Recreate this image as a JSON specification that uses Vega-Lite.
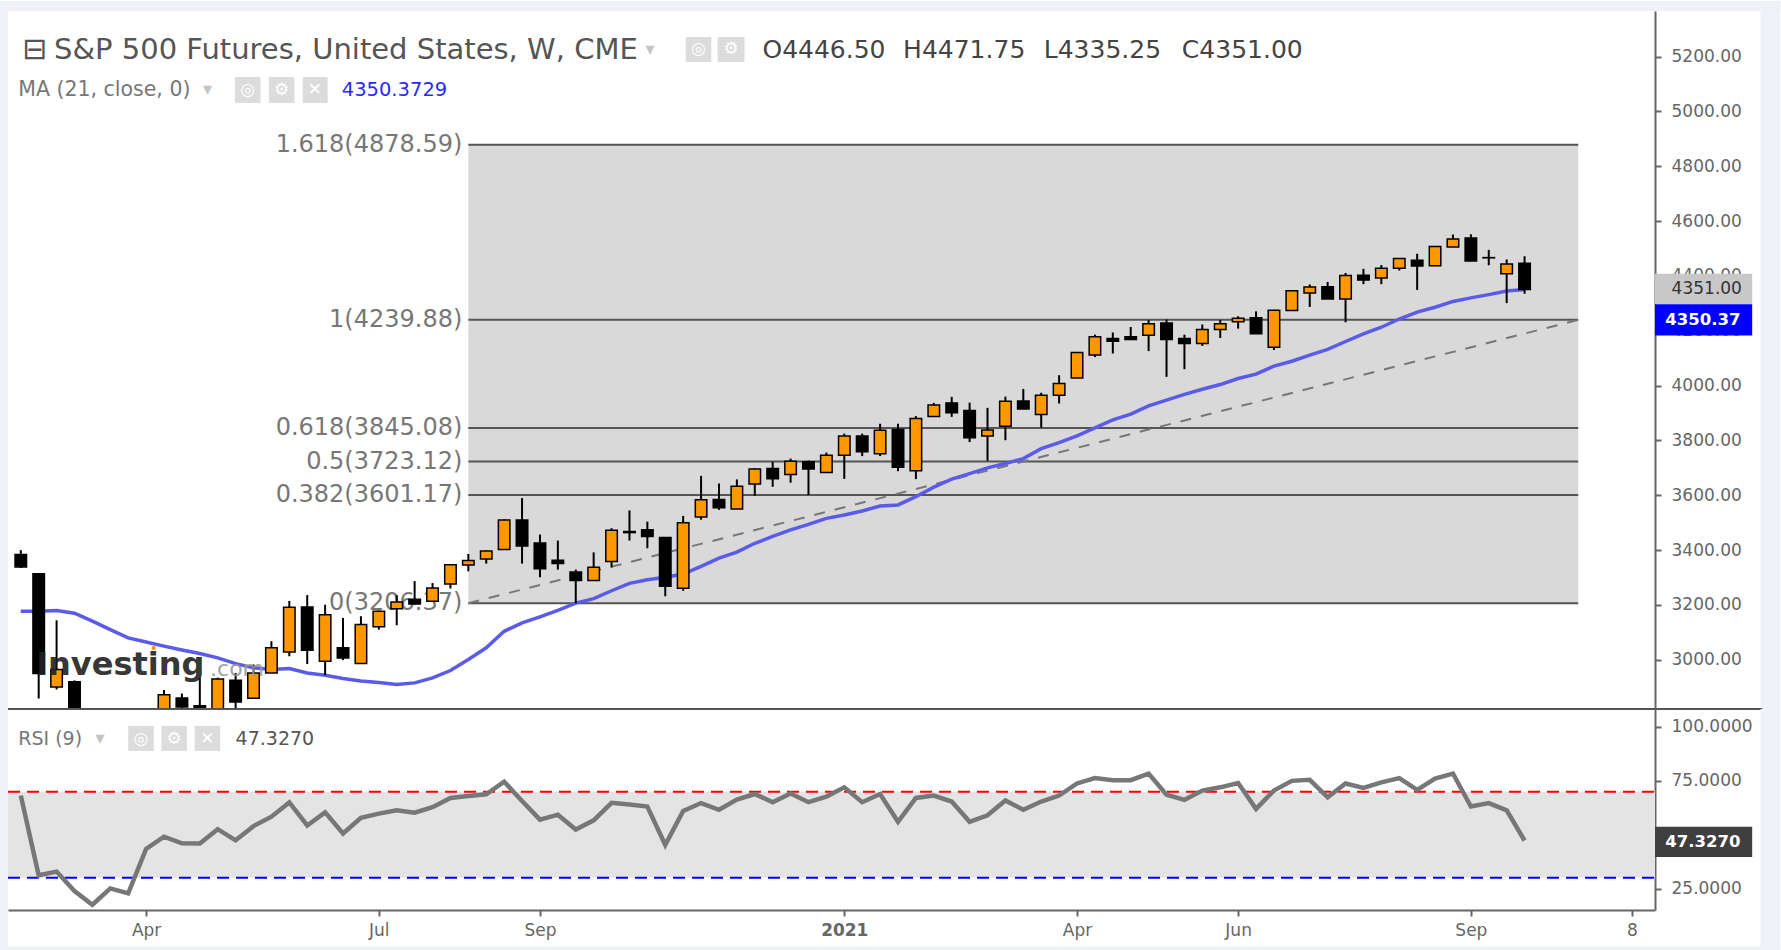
{"$schema":"https://vega.github.io/schema/vega-lite/v6.json","background":"white","padding":0,"spacing":0,"bounds":"flush","config":{"view":{"stroke":null},"axis":{"grid":false,"labelFont":"DejaVu Sans","titleFont":"DejaVu Sans"},"text":{"font":"DejaVu Sans","baseline":"middle","align":"left"}},
"datasets":{"weeks":[
{"t":"2020-02-17","o":3384,"h":3400,"l":3335,"c":3339,"ma":3177,"rsi":68.2},
{"t":"2020-02-24","o":3314,"h":3314,"l":2859,"c":2950,"ma":3177,"rsi":31.2},
{"t":"2020-03-02","o":2901,"h":3144,"l":2892,"c":2965,"ma":3180,"rsi":32.9},
{"t":"2020-03-09","o":2920,"h":2925,"l":2700,"c":2720,"ma":3170,"rsi":23.9},
{"t":"2020-03-16","o":2700,"h":2720,"l":2300,"c":2310,"ma":3141,"rsi":17.5},
{"t":"2020-03-23","o":2300,"h":2640,"l":2180,"c":2530,"ma":3110,"rsi":25.1},
{"t":"2020-03-30","o":2530,"h":2640,"l":2430,"c":2480,"ma":3080,"rsi":22.8},
{"t":"2020-04-06","o":2480,"h":2790,"l":2470,"c":2780,"ma":3065,"rsi":43.4},
{"t":"2020-04-13","o":2780,"h":2890,"l":2750,"c":2873,"ma":3050,"rsi":49.1},
{"t":"2020-04-20","o":2861,"h":2877,"l":2720,"c":2828,"ma":3036,"rsi":46},
{"t":"2020-04-27","o":2833,"h":2935,"l":2780,"c":2810,"ma":3023,"rsi":45.9},
{"t":"2020-05-04","o":2800,"h":2935,"l":2780,"c":2930,"ma":3007,"rsi":52.6},
{"t":"2020-05-11","o":2926,"h":2952,"l":2760,"c":2846,"ma":2986,"rsi":47.4},
{"t":"2020-05-18","o":2860,"h":2983,"l":2860,"c":2952,"ma":2971,"rsi":54},
{"t":"2020-05-25","o":2952,"h":3068,"l":2952,"c":3044,"ma":2965,"rsi":58.4},
{"t":"2020-06-01","o":3029,"h":3215,"l":3013,"c":3192,"ma":2968,"rsi":65},
{"t":"2020-06-08","o":3193,"h":3236,"l":2985,"c":3035,"ma":2952,"rsi":54.3},
{"t":"2020-06-15","o":2995,"h":3201,"l":2944,"c":3164,"ma":2944,"rsi":60.4},
{"t":"2020-06-22","o":3044,"h":3153,"l":2999,"c":3007,"ma":2932,"rsi":50.6},
{"t":"2020-06-29","o":2987,"h":3159,"l":2987,"c":3129,"ma":2923,"rsi":57.9},
{"t":"2020-07-06","o":3121,"h":3180,"l":3110,"c":3177,"ma":2917,"rsi":59.8},
{"t":"2020-07-13","o":3186,"h":3236,"l":3126,"c":3211,"ma":2910,"rsi":61.4},
{"t":"2020-07-20","o":3221,"h":3287,"l":3201,"c":3204,"ma":2916,"rsi":60.2},
{"t":"2020-07-27","o":3214,"h":3280,"l":3214,"c":3262,"ma":2934,"rsi":62.8},
{"t":"2020-08-03","o":3277,"h":3349,"l":3260,"c":3347,"ma":2961,"rsi":67.1},
{"t":"2020-08-10","o":3346,"h":3386,"l":3323,"c":3362,"ma":3001,"rsi":68},
{"t":"2020-08-17","o":3368,"h":3399,"l":3351,"c":3397,"ma":3044,"rsi":68.8},
{"t":"2020-08-24","o":3402,"h":3512,"l":3402,"c":3510,"ma":3104,"rsi":74.6},
{"t":"2020-08-31","o":3510,"h":3590,"l":3351,"c":3415,"ma":3135,"rsi":65.7},
{"t":"2020-09-07","o":3426,"h":3457,"l":3301,"c":3332,"ma":3157,"rsi":57},
{"t":"2020-09-14","o":3363,"h":3435,"l":3329,"c":3351,"ma":3180,"rsi":59.3},
{"t":"2020-09-21","o":3320,"h":3329,"l":3206,"c":3289,"ma":3207,"rsi":52.4},
{"t":"2020-09-28","o":3289,"h":3392,"l":3289,"c":3338,"ma":3223,"rsi":56.7},
{"t":"2020-10-05","o":3359,"h":3480,"l":3337,"c":3473,"ma":3252,"rsi":64.8},
{"t":"2020-10-12","o":3468,"h":3545,"l":3435,"c":3464,"ma":3279,"rsi":64},
{"t":"2020-10-19","o":3474,"h":3504,"l":3407,"c":3450,"ma":3292,"rsi":63.1},
{"t":"2020-10-26","o":3446,"h":3446,"l":3232,"c":3268,"ma":3301,"rsi":45.3},
{"t":"2020-11-02","o":3261,"h":3525,"l":3252,"c":3500,"ma":3313,"rsi":61},
{"t":"2020-11-09","o":3521,"h":3671,"l":3511,"c":3584,"ma":3341,"rsi":64.7},
{"t":"2020-11-16","o":3585,"h":3643,"l":3547,"c":3555,"ma":3371,"rsi":61.6},
{"t":"2020-11-23","o":3550,"h":3658,"l":3550,"c":3633,"ma":3393,"rsi":66.3},
{"t":"2020-11-30","o":3641,"h":3698,"l":3598,"c":3696,"ma":3425,"rsi":68.9},
{"t":"2020-12-07","o":3698,"h":3722,"l":3631,"c":3660,"ma":3450,"rsi":65.1},
{"t":"2020-12-14","o":3676,"h":3734,"l":3646,"c":3724,"ma":3474,"rsi":69.1},
{"t":"2020-12-21","o":3722,"h":3727,"l":3601,"c":3696,"ma":3494,"rsi":65.1},
{"t":"2020-12-28","o":3683,"h":3756,"l":3683,"c":3746,"ma":3516,"rsi":67.7},
{"t":"2021-01-04","o":3746,"h":3825,"l":3660,"c":3816,"ma":3528,"rsi":72},
{"t":"2021-01-11","o":3816,"h":3825,"l":3743,"c":3759,"ma":3543,"rsi":65.1},
{"t":"2021-01-18","o":3752,"h":3861,"l":3743,"c":3837,"ma":3561,"rsi":68.9},
{"t":"2021-01-25","o":3840,"h":3861,"l":3688,"c":3702,"ma":3565,"rsi":56},
{"t":"2021-02-01","o":3690,"h":3889,"l":3659,"c":3880,"ma":3595,"rsi":67.1},
{"t":"2021-02-08","o":3887,"h":3937,"l":3887,"c":3929,"ma":3630,"rsi":68.2},
{"t":"2021-02-15","o":3937,"h":3959,"l":3886,"c":3901,"ma":3659,"rsi":65.4},
{"t":"2021-02-22","o":3909,"h":3938,"l":3794,"c":3810,"ma":3679,"rsi":56},
{"t":"2021-03-01","o":3816,"h":3919,"l":3726,"c":3838,"ma":3700,"rsi":59},
{"t":"2021-03-08","o":3852,"h":3960,"l":3801,"c":3943,"ma":3716,"rsi":65.9},
{"t":"2021-03-15","o":3944,"h":3988,"l":3915,"c":3915,"ma":3734,"rsi":61.6},
{"t":"2021-03-22","o":3895,"h":3974,"l":3847,"c":3965,"ma":3770,"rsi":65.4},
{"t":"2021-03-29","o":3965,"h":4038,"l":3935,"c":4008,"ma":3792,"rsi":68.2},
{"t":"2021-04-05","o":4028,"h":4121,"l":4028,"c":4121,"ma":3817,"rsi":73.8},
{"t":"2021-04-12","o":4112,"h":4186,"l":4104,"c":4178,"ma":3846,"rsi":76.3},
{"t":"2021-04-19","o":4172,"h":4194,"l":4117,"c":4162,"ma":3875,"rsi":75.3},
{"t":"2021-04-26","o":4178,"h":4214,"l":4168,"c":4168,"ma":3896,"rsi":75.3},
{"t":"2021-05-03","o":4184,"h":4239,"l":4126,"c":4226,"ma":3926,"rsi":78.4},
{"t":"2021-05-10","o":4228,"h":4241,"l":4032,"c":4168,"ma":3947,"rsi":68.6},
{"t":"2021-05-17","o":4172,"h":4186,"l":4060,"c":4154,"ma":3968,"rsi":66.2},
{"t":"2021-05-24","o":4154,"h":4223,"l":4145,"c":4205,"ma":3987,"rsi":70.5},
{"t":"2021-05-31","o":4205,"h":4239,"l":4174,"c":4226,"ma":4004,"rsi":72},
{"t":"2021-06-07","o":4233,"h":4253,"l":4208,"c":4246,"ma":4026,"rsi":74},
{"t":"2021-06-14","o":4248,"h":4271,"l":4189,"c":4189,"ma":4042,"rsi":62},
{"t":"2021-06-21","o":4140,"h":4275,"l":4130,"c":4275,"ma":4071,"rsi":70.5},
{"t":"2021-06-28","o":4274,"h":4346,"l":4274,"c":4346,"ma":4089,"rsi":75},
{"t":"2021-07-05","o":4338,"h":4369,"l":4287,"c":4360,"ma":4111,"rsi":75.5},
{"t":"2021-07-12","o":4361,"h":4378,"l":4316,"c":4316,"ma":4132,"rsi":67.4},
{"t":"2021-07-19","o":4316,"h":4411,"l":4231,"c":4402,"ma":4161,"rsi":73.8},
{"t":"2021-07-26","o":4403,"h":4426,"l":4370,"c":4385,"ma":4189,"rsi":71.7},
{"t":"2021-08-02","o":4393,"h":4440,"l":4370,"c":4428,"ma":4213,"rsi":74.3},
{"t":"2021-08-09","o":4428,"h":4464,"l":4420,"c":4464,"ma":4243,"rsi":76.3},
{"t":"2021-08-16","o":4457,"h":4481,"l":4349,"c":4436,"ma":4268,"rsi":70.8},
{"t":"2021-08-23","o":4437,"h":4507,"l":4437,"c":4507,"ma":4286,"rsi":76.1},
{"t":"2021-08-30","o":4506,"h":4551,"l":4506,"c":4535,"ma":4307,"rsi":78.4},
{"t":"2021-09-06","o":4538,"h":4552,"l":4455,"c":4455,"ma":4320,"rsi":63.1},
{"t":"2021-09-13","o":4467,"h":4495,"l":4439,"c":4466,"ma":4332,"rsi":64.7},
{"t":"2021-09-20","o":4408,"h":4460,"l":4301,"c":4444,"ma":4345,"rsi":61.3},
{"t":"2021-09-27","o":4446.5,"h":4471.75,"l":4335.25,"c":4351,"ma":4350.37,"rsi":47.33}
],
"fib":[
{"t":"2020-08-10","t2":"2021-10-18","p":4878.59,"label":"1.618(4878.59)"},
{"t":"2020-08-10","t2":"2021-10-18","p":4239.88,"label":"1(4239.88)"},
{"t":"2020-08-10","t2":"2021-10-18","p":3845.08,"label":"0.618(3845.08)"},
{"t":"2020-08-10","t2":"2021-10-18","p":3723.12,"label":"0.5(3723.12)"},
{"t":"2020-08-10","t2":"2021-10-18","p":3601.17,"label":"0.382(3601.17)"},
{"t":"2020-08-10","t2":"2021-10-18","p":3206.37,"label":"0(3206.37)"}
]},
"vconcat":[
{"width":1647,"height":698,
"encoding":{"x":{"field":"t","type":"temporal","title":null,"axis":null,"scale":{"type":"utc","padding":0,"domain":[{"year":2020,"month":2,"date":12,"utc":true},{"year":2021,"month":11,"date":17,"utc":true}]}},
"y":{"field":"p","type":"quantitative","scale":{"domain":[2820.7,5366.3],"nice":false,"zero":false},
"axis":{"orient":"right","title":null,"values":[3000,3200,3400,3600,3800,4000,4200,4400,4600,4800,5000,5200],"format":".2f","labelFontSize":17,"labelColor":"#666666","labelPadding":10,"tickSize":6,"tickColor":"#666666","tickWidth":2,"domainColor":"#666666","domainWidth":2}}},
"layer":[
{"data":{"values":[
{"t":"2020-02-08T21:00:00Z","t2":"2022-01-05T00:00:00Z","p":5366.3,"p2":5402.8},
{"t":"2020-02-08T21:00:00Z","t2":"2020-02-12T00:00:00Z","p":2820.7,"p2":5402.8},
{"t":"2021-12-28T06:00:00Z","t2":"2022-01-05T00:00:00Z","p":2820.7,"p2":5402.8}]},
"mark":{"type":"rect","color":"#eef1f5"},"encoding":{"x2":{"field":"t2"},"y2":{"field":"p2"}}},
{"data":{"values":[{"t":"2020-08-10","t2":"2021-10-18","p":3206.37,"p2":4878.59}]},"mark":{"type":"rect","color":"#d9d9d9"},"encoding":{"x2":{"field":"t2"},"y2":{"field":"p2"}}},
{"data":{"name":"fib"},"mark":{"type":"rule","color":"#555555","strokeWidth":2},"encoding":{"x2":{"field":"t2"}}},
{"data":{"name":"fib"},"mark":{"type":"text","align":"right","dx":-6,"fontSize":24,"color":"#777777"},"encoding":{"text":{"field":"label"}}},
{"data":{"values":[{"t":"2020-08-10","p":3206.37},{"t":"2021-10-18","p":4239.88}]},"mark":{"type":"line","color":"#777777","strokeWidth":2,"strokeDash":[11,10]}},
{"data":{"name":"weeks"},"mark":{"type":"line","color":"#5b5bea","strokeWidth":3.5,"clip":true},"encoding":{"y":{"field":"ma","type":"quantitative","title":null,"scale":{"domain":[2820.7,5366.3],"nice":false,"zero":false}}}},
{"data":{"name":"weeks"},"mark":{"type":"rule","color":"#000000","strokeWidth":2,"clip":true},"encoding":{"y":{"field":"l","type":"quantitative","title":null,"scale":{"domain":[2820.7,5366.3],"nice":false,"zero":false}},"y2":{"field":"h"}}},
{"data":{"name":"weeks"},"mark":{"type":"bar","size":11.5,"stroke":"#000000","strokeWidth":1.5,"orient":"vertical","clip":true},"encoding":{"y":{"field":"o","type":"quantitative","title":null,"scale":{"domain":[2820.7,5366.3],"nice":false,"zero":false}},"y2":{"field":"c"},"color":{"condition":{"test":"datum.c>=datum.o","value":"#ff9800"},"value":"#000000"}}},
{"data":{"values":[{"t":"2020-02-23","p":2980,"label":"Investing"}]},"mark":{"type":"text","fontSize":32,"fontWeight":"bold","color":"#222222","opacity":0.9},"encoding":{"text":{"field":"label"}}},
{"data":{"values":[{"t":"2020-05-01","p":2967,"label":".com"}]},"mark":{"type":"text","fontSize":22,"color":"#999999","opacity":0.9},"encoding":{"text":{"field":"label"}}},
{"data":{"values":[{"t":"2020-04-09","p":3039,"label":"•"}]},"mark":{"type":"text","fontSize":14,"align":"center","color":"#ff9800"},"encoding":{"text":{"field":"label"}}},
{"data":{"values":[{"t":"2020-02-12","t2":"2021-12-29","p":2820.7}]},"mark":{"type":"rule","color":"#555555","strokeWidth":2},"encoding":{"x2":{"field":"t2"}}},
{"data":{"values":[{"t":"2020-03-01","p":5224,"label":"S&P 500 Futures, United States, W, CME"}]},"mark":{"type":"text","fontSize":29,"color":"#555555"},"encoding":{"text":{"field":"label"}}},
{"data":{"values":[{"t":"2020-02-22T12:00:00Z","p":5224,"label":"⊟"}]},"mark":{"type":"text","fontSize":30,"align":"center","color":"#555555"},"encoding":{"text":{"field":"label"}}},
{"data":{"values":[{"t":"2020-12-03","p":5224,"label":"O4446.50"},{"t":"2021-01-27","p":5224,"label":"H4471.75"},{"t":"2021-03-23","p":5224,"label":"L4335.25"},{"t":"2021-05-16","p":5224,"label":"C4351.00"}]},"mark":{"type":"text","fontSize":25,"color":"#444444"},"encoding":{"text":{"field":"label"}}},
{"data":{"values":[{"t":"2020-02-16","p":5080,"label":"MA (21, close, 0)"}]},"mark":{"type":"text","fontSize":20.5,"color":"#777777"},"encoding":{"text":{"field":"label"}}},
{"data":{"values":[{"t":"2020-06-21T12:00:00Z","p":5080,"label":"4350.3729"}]},"mark":{"type":"text","fontSize":19.5,"color":"#2a2aff"},"encoding":{"text":{"field":"label"}}},
{"data":{"values":[{"t":"2020-10-20","p":5224,"label":"▾"},{"t":"2020-04-30","p":5080,"label":"▾"}]},"mark":{"type":"text","fontSize":18,"align":"center","color":"#c4c4c4"},"encoding":{"text":{"field":"label"}}},
{"data":{"values":[
{"t":"2020-11-03","t2":"2020-11-13","p":5180.3,"p2":5271.5},{"t":"2020-11-15T12:00:00Z","t2":"2020-11-26","p":5180.3,"p2":5271.5},
{"t":"2020-05-10T18:00:00Z","t2":"2020-05-20T18:00:00Z","p":5031,"p2":5125.6},{"t":"2020-05-24","t2":"2020-06-03","p":5031,"p2":5125.6},{"t":"2020-06-06T06:00:00Z","t2":"2020-06-16","p":5031,"p2":5125.6}]},
"mark":{"type":"rect","color":"#dcdcdc"},"encoding":{"x2":{"field":"t2"},"y2":{"field":"p2"}}},
{"data":{"values":[
{"t":"2020-11-08","p":5226,"label":"◎"},{"t":"2020-11-20T18:00:00Z","p":5226,"label":"⚙"},
{"t":"2020-05-15T18:00:00Z","p":5078,"label":"◎"},{"t":"2020-05-29","p":5078,"label":"⚙"},{"t":"2020-06-11","p":5078,"label":"✕"}]},
"mark":{"type":"text","fontSize":17,"align":"center","color":"#ffffff"},"encoding":{"text":{"field":"label"}}},
{"data":{"values":[{"t":"2021-11-17","t2":"2021-12-25","p":4296.7,"p2":4408}]},"mark":{"type":"rect","color":"#c8c8c8"},"encoding":{"x2":{"field":"t2"},"y2":{"field":"p2"}}},
{"data":{"values":[{"t":"2021-11-17","t2":"2021-12-25","p":4182.6,"p2":4296.7}]},"mark":{"type":"rect","color":"#0000ff"},"encoding":{"x2":{"field":"t2"},"y2":{"field":"p2"}}},
{"data":{"values":[{"t":"2021-11-23T12:00:00Z","p":4351,"label":"4351.00"}]},"mark":{"type":"text","fontSize":17,"color":"#333333"},"encoding":{"text":{"field":"label"}}},
{"data":{"values":[{"t":"2021-11-21","p":4239,"label":"4350.37"}]},"mark":{"type":"text","fontSize":16.5,"fontWeight":"bold","color":"#ffffff"},"encoding":{"text":{"field":"label"}}}
]},
{"width":1647,"height":201,
"encoding":{"x":{"field":"t","type":"temporal","title":null,"scale":{"type":"utc","padding":0,"domain":[{"year":2020,"month":2,"date":12,"utc":true},{"year":2021,"month":11,"date":17,"utc":true}]},
"axis":{"values":[{"year":2020,"month":4,"date":6,"utc":true},{"year":2020,"month":7,"date":6,"utc":true},{"year":2020,"month":9,"date":7,"utc":true},{"year":2021,"month":1,"date":4,"utc":true},{"year":2021,"month":4,"date":5,"utc":true},{"year":2021,"month":6,"date":7,"utc":true},{"year":2021,"month":9,"date":6,"utc":true},{"year":2021,"month":11,"date":8,"utc":true}],
"labelExpr":"utcmonth(datum.value)==0 ? '2021' : utcmonth(datum.value)==10 ? '8' : utcFormat(datum.value,'%b')","labelFontWeight":{"condition":{"test":"utcmonth(datum.value)==0","value":"bold"},"value":"normal"},"labelFontSize":17,"labelColor":"#666666","labelPadding":6,"tickSize":6,"tickColor":"#666666","tickWidth":2,"domainColor":"#666666","domainWidth":2}},
"y":{"field":"p","type":"quantitative","scale":{"domain":[15.08,108.35],"nice":false,"zero":false},
"axis":{"orient":"right","title":null,"values":[25,75,100],"format":".4f","labelFontSize":17,"labelColor":"#666666","labelPadding":10,"tickSize":6,"tickColor":"#666666","tickWidth":2,"domainColor":"#666666","domainWidth":2}}},
"layer":[
{"data":{"values":[
{"t":"2020-02-08T21:00:00Z","t2":"2020-02-12T00:00:00Z","p":-3.9,"p2":108.35},
{"t":"2021-12-28T06:00:00Z","t2":"2022-01-05T00:00:00Z","p":-3.9,"p2":108.35},
{"t":"2020-02-08T21:00:00Z","t2":"2022-01-05T00:00:00Z","p":-3.9,"p2":-1.6}]},
"mark":{"type":"rect","color":"#eef1f5"},"encoding":{"x2":{"field":"t2"},"y2":{"field":"p2"}}},
{"data":{"values":[{"t":"2020-02-12","t2":"2021-11-17","p":30,"p2":70}]},"mark":{"type":"rect","color":"#e4e4e4"},"encoding":{"x2":{"field":"t2"},"y2":{"field":"p2"}}},
{"data":{"values":[{"t":"2020-02-12","t2":"2021-11-17","p":70}]},"mark":{"type":"rule","color":"#ff0000","strokeWidth":2,"strokeDash":[12,7]},"encoding":{"x2":{"field":"t2"}}},
{"data":{"values":[{"t":"2020-02-12","t2":"2021-11-17","p":30}]},"mark":{"type":"rule","color":"#0000ff","strokeWidth":2,"strokeDash":[12,7]},"encoding":{"x2":{"field":"t2"}}},
{"data":{"name":"weeks"},"mark":{"type":"line","color":"#777777","strokeWidth":4.5,"clip":true},"encoding":{"y":{"field":"rsi","type":"quantitative","title":null,"scale":{"domain":[15.08,108.35],"nice":false,"zero":false}}}},
{"data":{"values":[{"t":"2020-02-16","p":94.4,"label":"RSI (9)"}]},"mark":{"type":"text","fontSize":19,"color":"#777777"},"encoding":{"text":{"field":"label"}}},
{"data":{"values":[{"t":"2020-03-19","p":94.4,"label":"▾"}]},"mark":{"type":"text","fontSize":18,"align":"center","color":"#c4c4c4"},"encoding":{"text":{"field":"label"}}},
{"data":{"values":[{"t":"2020-03-30","t2":"2020-04-09","p":88.9,"p2":100.5},{"t":"2020-04-12","t2":"2020-04-22","p":88.9,"p2":100.5},{"t":"2020-04-25","t2":"2020-05-05","p":88.9,"p2":100.5}]},"mark":{"type":"rect","color":"#dcdcdc"},"encoding":{"x2":{"field":"t2"},"y2":{"field":"p2"}}},
{"data":{"values":[{"t":"2020-04-04","p":94.6,"label":"◎"},{"t":"2020-04-17","p":94.6,"label":"⚙"},{"t":"2020-04-30","p":94.6,"label":"✕"}]},"mark":{"type":"text","fontSize":17,"align":"center","color":"#ffffff"},"encoding":{"text":{"field":"label"}}},
{"data":{"values":[{"t":"2020-05-11","p":94.4,"label":"47.3270"}]},"mark":{"type":"text","fontSize":19,"color":"#555555"},"encoding":{"text":{"field":"label"}}},
{"data":{"values":[{"t":"2021-11-17","t2":"2021-12-25","p":39.7,"p2":53.7}]},"mark":{"type":"rect","color":"#3f3f3f"},"encoding":{"x2":{"field":"t2"},"y2":{"field":"p2"}}},
{"data":{"values":[{"t":"2021-11-21","p":46.6,"label":"47.3270"}]},"mark":{"type":"text","fontSize":16.5,"fontWeight":"bold","color":"#ffffff"},"encoding":{"text":{"field":"label"}}}
]}
]}
